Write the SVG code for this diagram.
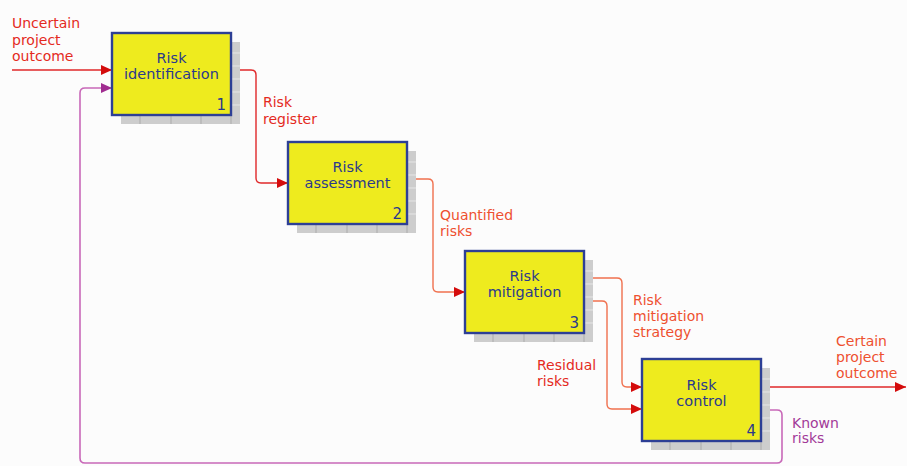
<svg xmlns="http://www.w3.org/2000/svg" width="907" height="466" viewBox="0 0 907 466">
<defs>
<style>
.bg{fill:#fcfcfc}
.shadow{fill:#cdcdcd}
.grid{stroke:#ababab;stroke-width:1;fill:none}
.gridr{stroke:#e6e6e6;stroke-width:1;fill:none}
.box{fill:#eeeb1e;stroke:#2d3f95;stroke-width:2.4}
.bt{font-family:"DejaVu Sans",Verdana,sans-serif;font-size:14.5px;fill:#2b3a8c;text-anchor:middle}
.num{font-family:"DejaVu Sans",Verdana,sans-serif;font-size:15px;fill:#2b3a8c;text-anchor:end}
.lbl{font-family:"DejaVu Sans",Verdana,sans-serif;font-size:14px}
.red{fill:#e42a1e}
.org{fill:#ee5030}
.pur{fill:#a23a98}
.cr{fill:none;stroke:#e0282a;stroke-width:1.4}
.co{fill:none;stroke:#f0704e;stroke-width:1.4}
.cp{fill:none;stroke:#c868b8;stroke-width:1.6}
</style>
<marker id="ar" markerWidth="11" markerHeight="10" refX="11" refY="5" orient="auto" markerUnits="userSpaceOnUse">
<path d="M0,0 L11,5 L0,10 Z" fill="#d40c0c"/>
</marker>
<marker id="ap" markerWidth="11" markerHeight="10" refX="11" refY="5" orient="auto" markerUnits="userSpaceOnUse">
<path d="M0,0 L11,5 L0,10 Z" fill="#a02c90"/>
</marker>
</defs>
<rect class="bg" x="0" y="0" width="907" height="466"/>

<g id="connectors">
<path class="cr" d="M12,70 H112" marker-end="url(#ar)"/>
<path class="cr" d="M231,70 H251 Q256,70 256,75 V178 Q256,183 261,183 H288" marker-end="url(#ar)"/>
<path class="co" d="M407,179 H428 Q433,179 433,184 V287 Q433,292 438,292 H465" marker-end="url(#ar)"/>
<path class="co" d="M584,278 H617 Q622,278 622,283 V382 Q622,387 627,387 H642" marker-end="url(#ar)"/>
<path class="co" d="M584,301 H602 Q607,301 607,306 V404 Q607,409 612,409 H642" marker-end="url(#ar)"/>
<path class="cr" d="M762,387 H906" marker-end="url(#ar)"/>
<path class="cp" d="M762,410 H777 Q782,410 782,415 V458 Q782,463 777,463 H85 Q80,463 80,458 V93 Q80,88 85,88 H112" marker-end="url(#ap)"/>
</g>

<g id="node1">
<rect class="shadow" x="121" y="42" width="119" height="82"/>
<path class="grid" d="M140,115 V124 M171,115 V124 M201,115 V124 M231,115 V124"/>
<path class="gridr" d="M231,53 H240 M231,66 H240 M231,79 H240 M231,92 H240 M231,105 H240"/>
<rect class="box" x="112" y="33" width="119" height="82"/>
<text class="bt" x="171.5" y="63">Risk</text>
<text class="bt" x="171.5" y="79">identification</text>
<text class="num" x="226" y="110">1</text>
</g>

<g id="node2">
<rect class="shadow" x="297" y="151" width="119" height="82"/>
<path class="grid" d="M316,224 V233 M347,224 V233 M377,224 V233 M407,224 V233"/>
<path class="gridr" d="M407,162 H416 M407,175 H416 M407,188 H416 M407,201 H416 M407,214 H416"/>
<rect class="box" x="288" y="142" width="119" height="82"/>
<text class="bt" x="347.5" y="172">Risk</text>
<text class="bt" x="347.5" y="188">assessment</text>
<text class="num" x="402" y="219">2</text>
</g>

<g id="node3">
<rect class="shadow" x="474" y="260" width="119" height="82"/>
<path class="grid" d="M493,333 V342 M524,333 V342 M554,333 V342 M584,333 V342"/>
<path class="gridr" d="M584,271 H593 M584,284 H593 M584,297 H593 M584,310 H593 M584,323 H593"/>
<rect class="box" x="465" y="251" width="119" height="82"/>
<text class="bt" x="524.5" y="281">Risk</text>
<text class="bt" x="524.5" y="297">mitigation</text>
<text class="num" x="579" y="328">3</text>
</g>

<g id="node4">
<rect class="shadow" x="651" y="368" width="119" height="82"/>
<path class="grid" d="M670,441 V450 M701,441 V450 M731,441 V450 M761,441 V450"/>
<path class="gridr" d="M762,379 H770 M762,392 H770 M762,405 H770 M762,418 H770 M762,431 H770"/>
<rect class="box" x="642" y="359" width="119" height="82"/>
<text class="bt" x="701.5" y="390">Risk</text>
<text class="bt" x="701.5" y="406">control</text>
<text class="num" x="756" y="436">4</text>
</g>

<g id="labels">
<text class="lbl red" x="12" y="28">Uncertain</text>
<text class="lbl red" x="12" y="45">project</text>
<text class="lbl red" x="12" y="61">outcome</text>
<text class="lbl red" x="263" y="107">Risk</text>
<text class="lbl red" x="263" y="124">register</text>
<text class="lbl org" x="440" y="220">Quantified</text>
<text class="lbl org" x="440" y="236">risks</text>
<text class="lbl org" x="633" y="305">Risk</text>
<text class="lbl org" x="633" y="321">mitigation</text>
<text class="lbl org" x="633" y="337">strategy</text>
<text class="lbl red" x="537" y="370">Residual</text>
<text class="lbl red" x="537" y="386">risks</text>
<text class="lbl org" x="836" y="346">Certain</text>
<text class="lbl org" x="836" y="362">project</text>
<text class="lbl org" x="836" y="378">outcome</text>
<text class="lbl pur" x="792" y="428">Known</text>
<text class="lbl pur" x="792" y="443">risks</text>
</g>
</svg>
